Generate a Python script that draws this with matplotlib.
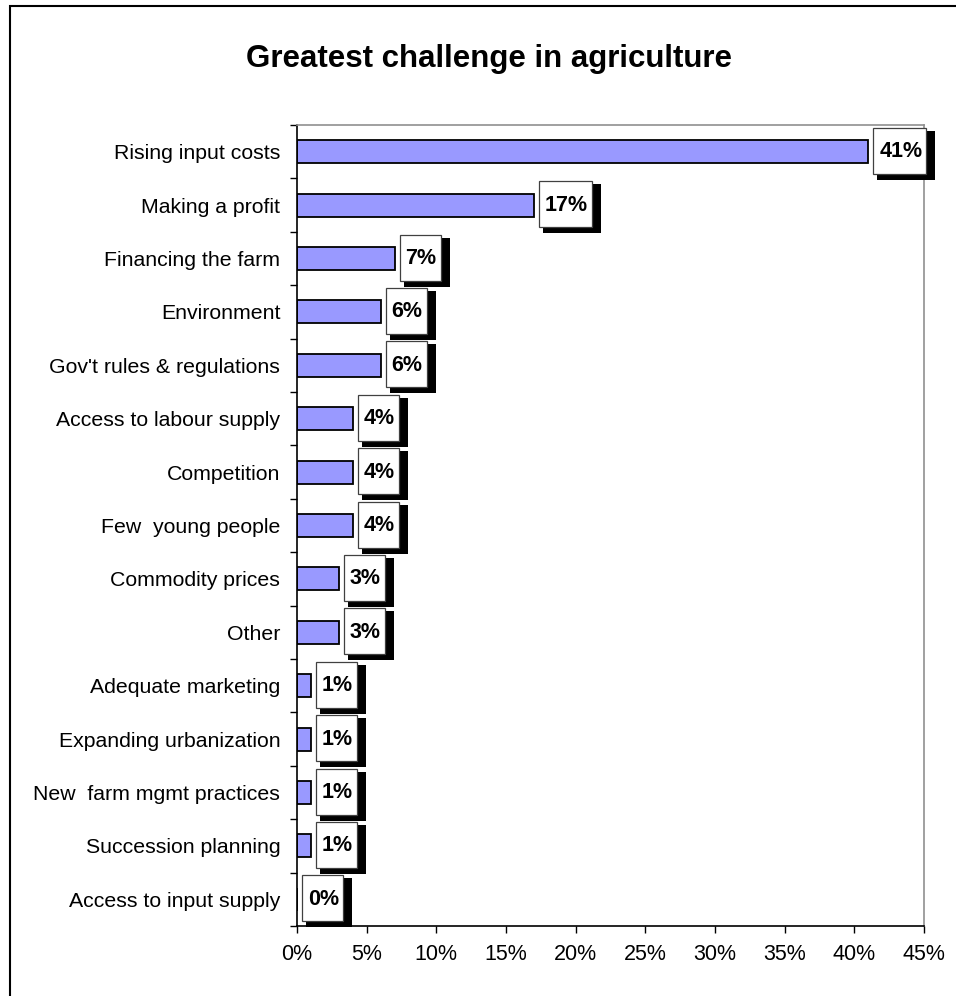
import matplotlib
matplotlib.use('Agg')
import matplotlib.pyplot as plt
from matplotlib.patches import Rectangle
from matplotlib.ticker import FixedLocator, PercentFormatter

plt.rcParams['font.family'] = ['Liberation Sans', 'DejaVu Sans']

# 数据（从上到下）
categories = ['Rising input costs', 'Making a profit', 'Financing the farm', 'Environment',
              "Gov't rules & regulations", 'Access to labour supply', 'Competition',
              'Few  young people', 'Commodity prices', 'Other', 'Adequate marketing',
              'Expanding urbanization', 'New  farm mgmt practices', 'Succession planning',
              'Access to input supply']
values = [41, 17, 7, 6, 6, 4, 4, 4, 3, 3, 1, 1, 1, 1, 0]
x_ticks = [0, 5, 10, 15, 20, 25, 30, 35, 40, 45]

W, H = 956, 996
fig = plt.figure(figsize=(W / 100, H / 100), dpi=100)
fig.patch.set_facecolor('white')

# 外框（只看得到左边和上边）
fig.patches.append(Rectangle((10 / W, -0.1), 1.2, 1 - 6 / H + 0.1, transform=fig.transFigure,
                             fill=False, edgecolor='black', linewidth=1.5, clip_on=False))

ax = fig.add_axes([297 / W, 1 - 926 / H, 627 / W, 801 / H])
pos = list(range(len(categories)))
ax.barh(pos, values, height=0.43, color='#9999FF', edgecolor='black', linewidth=1.3, zorder=2)
ax.set_xlim(0, 45)
ax.set_ylim(len(categories) - 0.5, -0.5)

ax.set_xticks(x_ticks)
ax.xaxis.set_major_formatter(PercentFormatter(decimals=0))
ax.tick_params(axis='x', length=5, width=1, pad=8, labelsize=15.5)

ax.yaxis.set_major_locator(FixedLocator([p - 0.5 for p in pos] + [len(pos) - 0.5]))
ax.yaxis.set_major_formatter(plt.NullFormatter())
ax.yaxis.set_minor_locator(FixedLocator(pos))
ax.set_yticklabels(categories, minor=True)
ax.tick_params(axis='y', which='major', length=5, width=1)
ax.tick_params(axis='y', which='minor', length=0, pad=12, labelsize=15.3)

for s in ['left', 'bottom']:
    ax.spines[s].set_color('black')
    ax.spines[s].set_linewidth(1.2)
for s in ['top', 'right']:
    ax.spines[s].set_color('#909090')
    ax.spines[s].set_linewidth(1.2)

fig.text(489 / W, 1 - 67 / H, 'Greatest challenge in agriculture', ha='center', va='baseline',
         fontsize=22.5, fontweight='bold')

# 数据标签：白框 + 黑色阴影
fig.canvas.draw()
r = fig.canvas.get_renderer()
for i, v in enumerate(values):
    x_end, yc = ax.transData.transform((v, i))
    t = fig.text(0, 0, f'{v}%', ha='center', va='center', fontsize=15.5, fontweight='bold',
                 transform=None, zorder=6)
    w = t.get_window_extent(r).width + 10
    h = 46
    x0 = x_end + 5
    box_y0 = yc - h / 2 + 1
    shadow = Rectangle((x0 + 4, box_y0 - 6), w + 5, h + 3, transform=None,
                       facecolor='black', edgecolor='none', zorder=4)
    box = Rectangle((x0, box_y0), w, h, transform=None,
                    facecolor='white', edgecolor='#404040', linewidth=0.9, zorder=5)
    fig.patches.extend([shadow, box])
    t.set_position((x0 + w / 2 + 1, yc))

fig.savefig('out.png', dpi=100, facecolor='white')
